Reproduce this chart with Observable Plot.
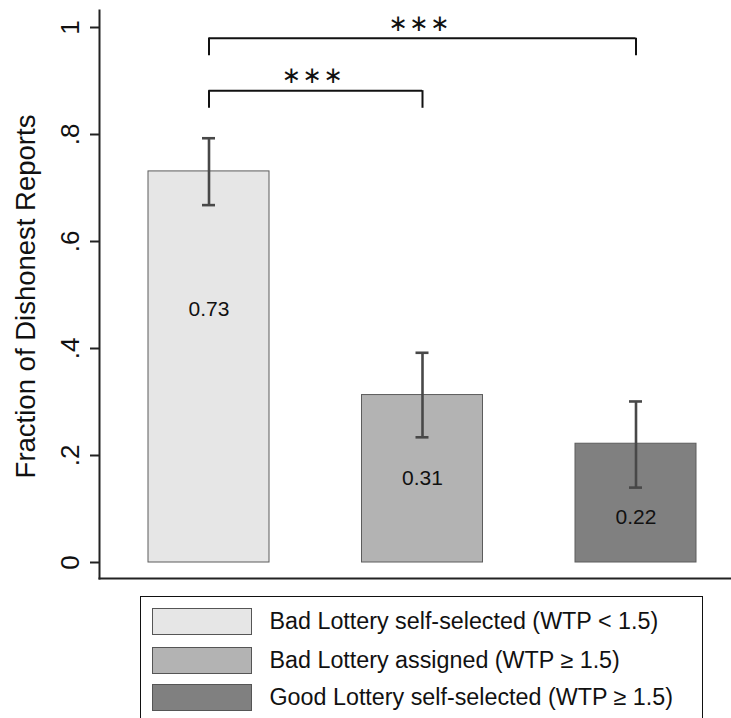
<!DOCTYPE html>
<html><head><meta charset="utf-8">
<script src="https://cdn.jsdelivr.net/npm/d3@7"></script>
<script src="https://cdn.jsdelivr.net/npm/@observablehq/plot@0.6"></script>
<style>
html,body{margin:0;padding:0;background:#fff;overflow:hidden;}
#wrap{position:relative;width:731px;height:718px;overflow:hidden;font-family:"Liberation Sans",Arial,sans-serif;}
#chart svg{display:block;}
#legend{position:absolute;left:140px;top:596px;width:563px;height:140px;border:1.5px solid #111;box-sizing:border-box;}
.row{position:absolute;left:10.5px;display:flex;align-items:center;height:27px;}
.sw{width:100px;height:27px;box-sizing:border-box;border:1px solid #555;margin-right:18px;flex:none;}
.lab{font-size:23.3px;color:#111;white-space:nowrap;}
</style></head><body><div id="wrap"><div id="chart"></div><div id="legend"></div></div>
<script>
// ---- data ----
const categories = ["Bad Lottery self-selected (WTP < 1.5)", "Bad Lottery assigned (WTP ≥ 1.5)", "Good Lottery self-selected (WTP ≥ 1.5)"];
const means = [0.731, 0.313, 0.222];
const ciLow = [0.668, 0.234, 0.140];
const ciHigh = [0.793, 0.392, 0.301];
const yTicks = [0, 0.2, 0.4, 0.6, 0.8, 1];
const yTickLabels = ["0", ".2", ".4", ".6", ".8", "1"];
const comparisons = [{from: 0, to: 1, label: "∗∗∗"}, {from: 0, to: 2, label: "∗∗∗"}];
const yTitle = "Fraction of Dishonest Reports";

// ---- styling / layout ----
const fills = ["#e6e6e6", "#b3b3b3", "#808080"];
const step = 213.5;                 // px between bar centres
const barHalf = 60.5 / step;        // half bar width in x units
const capHalf = 6.5 / step;
const valueLabelAt = [0.4735, 0.1566, 0.084];
const bracketLevel = [0.882, 0.980];
const bracketDrop = 0.033;
const starLevel = [0.910, 1.0075];

const rows = categories.map((c, i) => ({i, cat: c, mean: means[i], lo: ciLow[i], hi: ciHigh[i], fill: fills[i], ly: valueLabelAt[i]}));
const brackets = comparisons.map((c, k) => ({...c, y: bracketLevel[k], sy: starLevel[k]}));

const plot = Plot.plot({
  width: 731, height: 590,
  marginLeft: 99, marginRight: 0, marginTop: 10, marginBottom: 12,
  style: {fontFamily: '"Liberation Sans", Arial, sans-serif', color: "#111", background: "#fff"},
  x: {type: "linear", domain: [0, 2], range: [208.5, 635.5], axis: null},
  y: {type: "linear", domain: [0, 1], range: [562, 27], axis: null},
  marks: [
    Plot.rectY(rows, {x1: d => d.i - barHalf, x2: d => d.i + barHalf, y1: 0, y2: "mean", fill: "fill", stroke: "#5c5c5c", strokeWidth: 1}),
    Plot.ruleX(rows, {x: "i", y1: "lo", y2: "hi", stroke: "#484848", strokeWidth: 2.6}),
    Plot.ruleY(rows, {x1: d => d.i - capHalf, x2: d => d.i + capHalf, y: "lo", stroke: "#484848", strokeWidth: 2.6}),
    Plot.ruleY(rows, {x1: d => d.i - capHalf, x2: d => d.i + capHalf, y: "hi", stroke: "#484848", strokeWidth: 2.6}),
    Plot.text(rows, {x: "i", y: "ly", text: d => d.mean.toFixed(2), fontSize: 21, fill: "#111"}),
    // significance brackets
    Plot.ruleY(brackets, {x1: "from", x2: "to", y: "y", stroke: "#111", strokeWidth: 2}),
    Plot.ruleX(brackets, {x: "from", y1: d => d.y, y2: d => d.y - bracketDrop, stroke: "#111", strokeWidth: 2}),
    Plot.ruleX(brackets, {x: "to", y1: d => d.y, y2: d => d.y - bracketDrop, stroke: "#111", strokeWidth: 2}),
    Plot.text(brackets, {x: d => (d.from + d.to) / 2, y: "sy", text: "label", fontSize: 23, fontFamily: "DejaVu Sans", fill: "#111", dx: -3}),
    // axes
    Plot.axisY({ticks: yTicks, tickFormat: d => yTickLabels[yTicks.indexOf(d)], tickSize: 9, tickPadding: 12, tickRotate: -90, fontSize: 26, label: null, stroke: "#222", strokeWidth: 2}),
    Plot.text([yTitle], {frameAnchor: "left", rotate: -90, lineAnchor: "top", textAnchor: "middle", dx: -84, dy: 2, fontSize: 27.5, fill: "#111"}),
    Plot.frame({anchor: "left", stroke: "#222", strokeWidth: 2}),
    Plot.frame({anchor: "bottom", stroke: "#222", strokeWidth: 2})
  ]
});
document.getElementById("chart").appendChild(plot);
d3.select(plot).selectAll("text").filter(function() { return this.textContent.includes("∗"); }).style("letter-spacing", "1.5px");

// ---- legend ----
const legend = document.getElementById("legend");
const tops = [10.5, 49.5, 86.5];
categories.forEach((c, i) => {
  const r = document.createElement("div");
  r.className = "row";
  r.style.top = tops[i] + "px";
  const s = document.createElement("div");
  s.className = "sw";
  s.style.background = fills[i];
  const t = document.createElement("div");
  t.className = "lab";
  t.textContent = c;
  r.appendChild(s); r.appendChild(t);
  legend.appendChild(r);
});
</script></body></html>
